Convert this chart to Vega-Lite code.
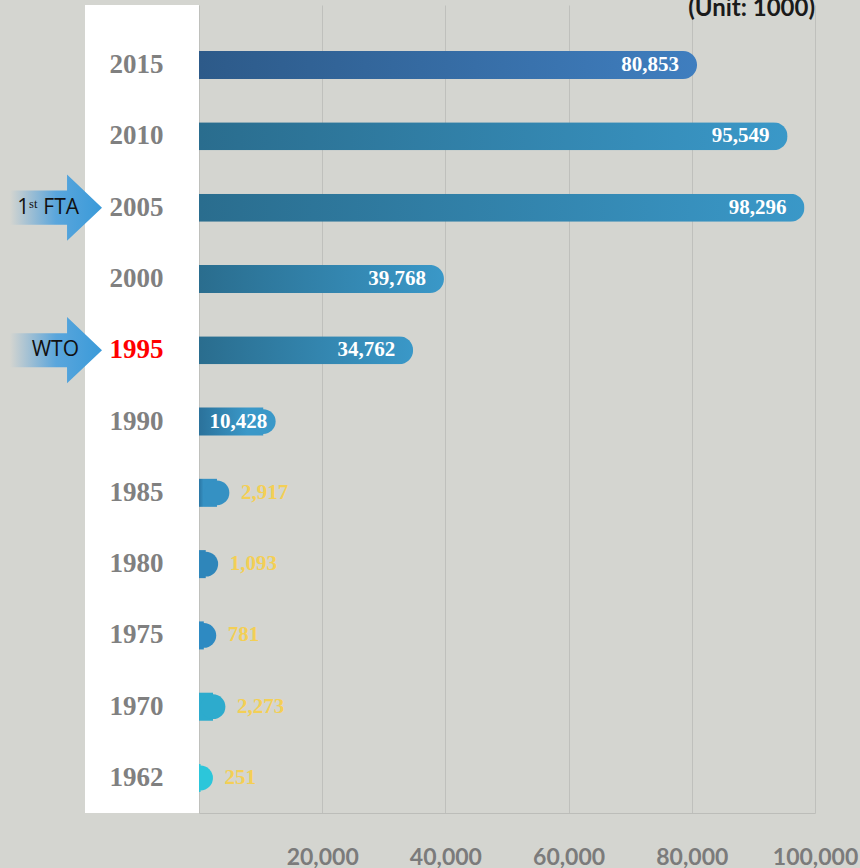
{
  "$schema": "https://vega.github.io/schema/vega-lite/v6.json",
  "width": 616,
  "height": 808,
  "autosize": {"type": "none"},
  "padding": {"left": 199, "top": 5, "right": 45, "bottom": 55},
  "background": "#d4d5d0",
  "config": {"view": {"stroke": null}},
  "title": {"text": "(Unit: 1000)", "anchor": "end", "orient": "top", "frame": "group", "font": "Lato", "fontSize": 24, "fontWeight": "bold", "color": "#1a1a1a", "baseline": "bottom", "offset": -40},
  "datasets": {
    "trade": [
      {"year": "2015", "value": 80853},
      {"year": "2010", "value": 95549},
      {"year": "2005", "value": 98296},
      {"year": "2000", "value": 39768},
      {"year": "1995", "value": 34762},
      {"year": "1990", "value": 10428},
      {"year": "1985", "value": 2917},
      {"year": "1980", "value": 1093},
      {"year": "1975", "value": 781},
      {"year": "1970", "value": 2273},
      {"year": "1962", "value": 251}
    ],
    "events": [
      {"year": "2005", "label": "1ˢᵗ FTA"},
      {"year": "1995", "label": "WTO"}
    ]
  },
  "layer": [
    {
      "data": {"name": "trade"},
      "transform": [{"filter": "datum.value >= 15000"}],
      "mark": {"type": "bar", "cornerRadiusEnd": 14},
      "encoding": {
        "y": {"field": "year", "type": "nominal", "title": null, "sort": ["2015","2010","2005","2000","1995","1990","1985","1980","1975","1970","1962"],
          "scale": {"domain": ["2015","2010","2005","2000","1995","1990","1985","1980","1975","1970","1962"], "paddingInner": 0.607, "paddingOuter": 0.47, "align": 0.687},
          "axis": {"title": null, "ticks": false, "domain": false, "grid": false, "labelAlign": "center", "labelPadding": 63, "labelFont": "Liberation Serif", "labelFontWeight": "bold", "labelFontSize": 27,
            "labelColor": {"condition": {"test": "datum.value == '1995'", "value": "#ff0000"}, "value": "#808080"}, "zindex": 2}},
        "x": {"field": "value", "type": "quantitative", "title": null, "scale": {"domain": [0, 100000], "nice": false},
          "axis": {"title": null, "values": [0, 20000, 40000, 60000, 80000, 100000], "labelExpr": "datum.value == 0 ? '' : format(datum.value, ',')", "labelFlush": false, "labelOverlap": false, "grid": true, "gridColor": "#bfc0bc", "ticks": false, "domain": true, "domainColor": "#bcbdb9", "labelPadding": 33, "labelFont": "Lato", "labelFontWeight": "bold", "labelFontSize": 23, "labelColor": "#7b7b7b", "zindex": 0}},
        "color": {
          "condition": [
            {"test": "datum.year == '2015'", "value": {"gradient": "linear", "x1": 0, "x2": 1, "y1": 0, "y2": 0, "stops": [{"offset": 0, "color": "#2d5a89"}, {"offset": 1, "color": "#3f7ebf"}]}}
          ],
          "value": {"gradient": "linear", "x1": 0, "x2": 1, "y1": 0, "y2": 0, "stops": [{"offset": 0, "color": "#2a6d8e"}, {"offset": 1, "color": "#3a98c8"}]}
        }
      }
    },
    {
      "data": {"name": "trade"},
      "transform": [{"filter": "datum.value < 15000"}],
      "mark": {"type": "bar"},
      "encoding": {
        "y": {"field": "year", "type": "nominal", "title": null, "sort": ["2015","2010","2005","2000","1995","1990","1985","1980","1975","1970","1962"]},
        "x": {"field": "value", "type": "quantitative", "title": null, "scale": {"domain": [0, 100000], "nice": false}},
        "color": {
          "condition": [
            {"test": "datum.year == '1990'", "value": {"gradient": "linear", "x1": 0, "x2": 1, "y1": 0, "y2": 0, "stops": [{"offset": 0, "color": "#2b729b"}, {"offset": 0.75, "color": "#3a98c8"}, {"offset": 1, "color": "#3a98c8"}]}},
            {"test": "datum.year == '1985'", "value": {"gradient": "linear", "x1": 0, "x2": 1, "y1": 0, "y2": 0, "stops": [{"offset": 0, "color": "#2b76a3"}, {"offset": 0.25, "color": "#3591c3"}, {"offset": 1, "color": "#3591c3"}]}},
            {"test": "datum.year == '1980'", "value": "#2f86ba"},
            {"test": "datum.year == '1975'", "value": "#2e8ac2"},
            {"test": "datum.year == '1970'", "value": "#2dabcd"},
            {"test": "datum.year == '1962'", "value": "#2cc6da"}
          ],
          "value": "#3a98c8"
        }
      }
    },
    {
      "data": {"name": "trade"},
      "transform": [{"filter": "datum.value < 15000"}],
      "mark": {"type": "point", "shape": "circle", "filled": true, "opacity": 1, "size": 615, "strokeWidth": 0},
      "encoding": {
        "y": {"field": "year", "type": "nominal", "title": null, "sort": ["2015","2010","2005","2000","1995","1990","1985","1980","1975","1970","1962"]},
        "x": {"field": "value", "type": "quantitative", "title": null, "scale": {"domain": [0, 100000], "nice": false}},
        "color": {
          "condition": [
            {"test": "datum.year == '1990'", "value": "#3a98c8"},
            {"test": "datum.year == '1985'", "value": "#3591c3"},
            {"test": "datum.year == '1980'", "value": "#2f86ba"},
            {"test": "datum.year == '1975'", "value": "#2e8ac2"},
            {"test": "datum.year == '1970'", "value": "#2dabcd"},
            {"test": "datum.year == '1962'", "value": "#2cc6da"}
          ],
          "value": "#3a98c8"
        }
      }
    },
    {
      "data": {"values": [{}]},
      "mark": {"type": "rect", "color": "#ffffff"},
      "encoding": {
        "x": {"datum": -18506, "type": "quantitative", "title": null, "scale": {"domain": [0, 100000], "nice": false}},
        "x2": {"datum": 0}
      }
    },
    {
      "data": {"name": "events"},
      "mark": {"type": "point", "shape": "M-1,-0.37 L0.24,-0.37 L0.24,-0.72 L1,0 L0.24,0.72 L0.24,0.37 L-1,0.37 Z", "filled": true, "opacity": 1, "size": 8464, "strokeWidth": 0,
        "fill": {"gradient": "linear", "x1": 0, "x2": 1, "y1": 0, "y2": 0, "stops": [{"offset": 0, "color": "rgba(90,160,215,0.0)"}, {"offset": 0.5, "color": "#5aa6dc"}, {"offset": 1, "color": "#3a9ad9"}]}},
      "encoding": {
        "y": {"field": "year", "type": "nominal", "title": null, "sort": ["2015","2010","2005","2000","1995","1990","1985","1980","1975","1970","1962"]},
        "x": {"datum": -23214, "type": "quantitative", "title": null, "scale": {"domain": [0, 100000], "nice": false}}
      }
    },
    {
      "data": {"name": "events"},
      "mark": {"type": "text", "align": "right", "baseline": "middle", "font": "Open Sans", "fontSize": 21, "color": "#111111"},
      "encoding": {
        "y": {"field": "year", "type": "nominal", "title": null, "sort": ["2015","2010","2005","2000","1995","1990","1985","1980","1975","1970","1962"]},
        "x": {"datum": -19480, "type": "quantitative", "title": null, "scale": {"domain": [0, 100000], "nice": false}},
        "text": {"field": "label"}
      }
    },
    {
      "data": {"name": "trade"},
      "transform": [{"filter": "datum.value >= 30000"}],
      "mark": {"type": "text", "align": "right", "baseline": "middle", "dx": -18, "font": "Liberation Serif", "fontWeight": "bold", "fontSize": 21, "color": "#ffffff"},
      "encoding": {
        "y": {"field": "year", "type": "nominal", "title": null, "sort": ["2015","2010","2005","2000","1995","1990","1985","1980","1975","1970","1962"]},
        "x": {"field": "value", "type": "quantitative", "title": null, "scale": {"domain": [0, 100000], "nice": false}},
        "text": {"field": "value", "format": ","}
      }
    },
    {
      "data": {"name": "trade"},
      "transform": [{"filter": "datum.value >= 10000 && datum.value < 30000"}],
      "mark": {"type": "text", "align": "right", "baseline": "middle", "dx": 4, "font": "Liberation Serif", "fontWeight": "bold", "fontSize": 21, "color": "#ffffff"},
      "encoding": {
        "y": {"field": "year", "type": "nominal", "title": null, "sort": ["2015","2010","2005","2000","1995","1990","1985","1980","1975","1970","1962"]},
        "x": {"field": "value", "type": "quantitative", "title": null, "scale": {"domain": [0, 100000], "nice": false}},
        "text": {"field": "value", "format": ","}
      }
    },
    {
      "data": {"name": "trade"},
      "transform": [{"filter": "datum.value < 10000"}],
      "mark": {"type": "text", "align": "left", "baseline": "middle", "dx": 24, "font": "Liberation Serif", "fontWeight": "bold", "fontSize": 21, "color": "#f3cf55"},
      "encoding": {
        "y": {"field": "year", "type": "nominal", "title": null, "sort": ["2015","2010","2005","2000","1995","1990","1985","1980","1975","1970","1962"]},
        "x": {"field": "value", "type": "quantitative", "title": null, "scale": {"domain": [0, 100000], "nice": false}},
        "text": {"field": "value", "format": ","}
      }
    }
  ]
}
